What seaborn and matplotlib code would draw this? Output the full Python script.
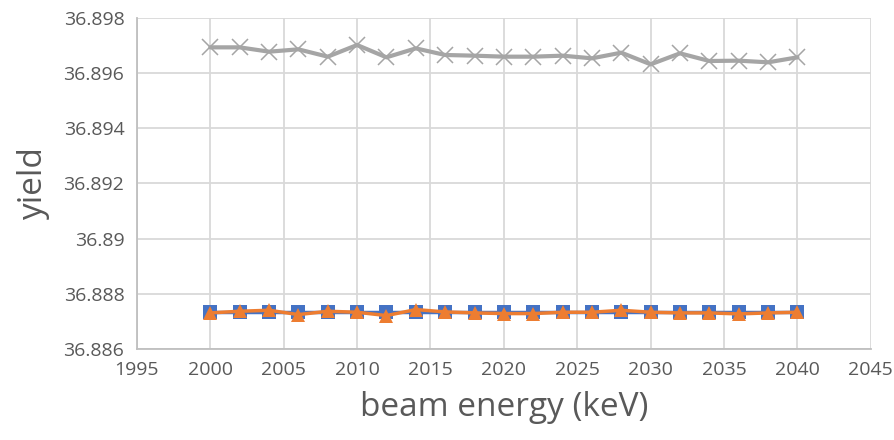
import numpy as np
import pandas as pd
import matplotlib
matplotlib.use('Agg')
import matplotlib.pyplot as plt
import seaborn as sns
from matplotlib.ticker import MultipleLocator, FuncFormatter

energy = list(range(2000, 2041, 2))

yield_gray = [36.896937, 36.896937, 36.89678, 36.896865, 36.896599, 36.897022,
              36.896575, 36.8969, 36.89666, 36.896635, 36.896599, 36.896599,
              36.896635, 36.896539, 36.896744, 36.896321, 36.89672, 36.896442,
              36.896454, 36.896394, 36.896575]
yield_blue = [36.88733] * 21
yield_orange = [36.887306, 36.887366, 36.887402, 36.887245, 36.887366, 36.88733,
                36.887209, 36.887427, 36.887342, 36.887306, 36.887282, 36.887282,
                36.88733, 36.88733, 36.887402, 36.88733, 36.887306, 36.887306,
                36.88727, 36.887306, 36.88733]

sns.set_style("white")
plt.rcParams['font.family'] = ['Open Sans', 'DejaVu Sans']

fig = plt.figure(figsize=(8.95, 4.4), dpi=100)
ax = fig.add_axes([0.153, 0.207, 0.820, 0.752])

df_gray = pd.DataFrame({"energy": energy, "yield": yield_gray})
df_blue = pd.DataFrame({"energy": energy, "yield": yield_blue})
df_orange = pd.DataFrame({"energy": energy, "yield": yield_orange})

sns.lineplot(data=df_gray, x="energy", y="yield", ax=ax, color="#A5A5A5",
             linewidth=3, marker="x", markersize=12, markeredgewidth=1.1,
             markeredgecolor="#A5A5A5", zorder=3)
sns.lineplot(data=df_blue, x="energy", y="yield", ax=ax, color="#4472C4",
             linewidth=2.5, marker="s", markersize=10, markeredgewidth=0,
             zorder=3)
sns.lineplot(data=df_orange, x="energy", y="yield", ax=ax, color="#ED7D31",
             linewidth=2.5, marker="^", markersize=10.5, markeredgewidth=0,
             zorder=4)

ax.set_xlim(1995, 2045)
ax.set_ylim(36.886, 36.898)
ax.xaxis.set_major_locator(MultipleLocator(5))
ax.xaxis.set_minor_locator(MultipleLocator(1))
ax.yaxis.set_major_locator(MultipleLocator(0.002))
ax.yaxis.set_minor_locator(MultipleLocator(0.0004))
ax.yaxis.set_major_formatter(FuncFormatter(lambda v, p: f"{v:.3f}".rstrip('0')))

ax.grid(True, which="major", color="#D9D9D9", linewidth=1.3)
for s in ["left", "bottom"]:
    ax.spines[s].set_color("#BFBFBF")
    ax.spines[s].set_linewidth(1.3)
for s in ["top", "right"]:
    ax.spines[s].set_visible(False)

ax.tick_params(which="major", length=0, labelsize=14, labelcolor="#595959", pad=9)
ax.tick_params(which="minor", direction="in", length=5, color="#BFBFBF", width=1)
ax.tick_params(axis="x", which="major", pad=9)

ax.set_xlabel("beam energy (keV)", fontsize=24, color="#595959", labelpad=8)
ax.set_ylabel("yield", fontsize=24, color="#595959", labelpad=10)

fig.savefig("out.png", dpi=100)
